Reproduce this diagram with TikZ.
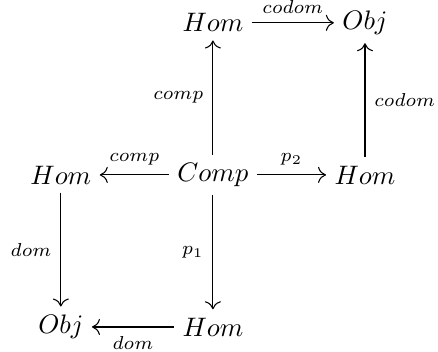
\documentclass[tikz,border=0pt]{standalone}
\usetikzlibrary{arrows.meta,calc}

\begin{document}
\begin{tikzpicture}[>={To[length=3pt,width=6pt]},
  obj/.style={inner sep=3pt},
  map/.style={->,line width=0.4pt,color=black},
  lbl/.style={font=\scriptsize}]
\useasboundingbox (-2.80,-2.32) rectangle (2.96,2.30);

\node[obj] (HomT) at (0,2) {$Hom$};
\node[obj] (ObjT) at (2,2) {$Obj$};
\node[obj] (HomL) at (-2,0) {$Hom$};
\node[obj] (Comp) at (0,0) {$Comp$};
\node[obj] (HomR) at (2,0) {$Hom$};
\node[obj] (ObjB) at (-2,-2) {$Obj$};
\node[obj] (HomB) at (0,-2) {$Hom$};

\draw[map] (HomT) -- node[lbl,above] {$codom$} (ObjT);
\draw[map] (Comp) -- node[lbl,left] {$comp$} (HomT);
\draw[map] (HomR) -- node[lbl,right] {$codom$} (ObjT);
\draw[map] (Comp) -- node[lbl,above] {$comp$} (HomL);
\draw[map] (Comp) -- node[lbl,above] {$p_2$} (HomR);
\draw[map] (HomL) -- node[lbl,left] {$dom$} (ObjB);
\draw[map] (Comp) -- node[lbl,left] {$p_1$} (HomB);
\draw[map] (HomB) -- node[lbl,below] {$dom$} (ObjB);

\end{tikzpicture}
\end{document}
